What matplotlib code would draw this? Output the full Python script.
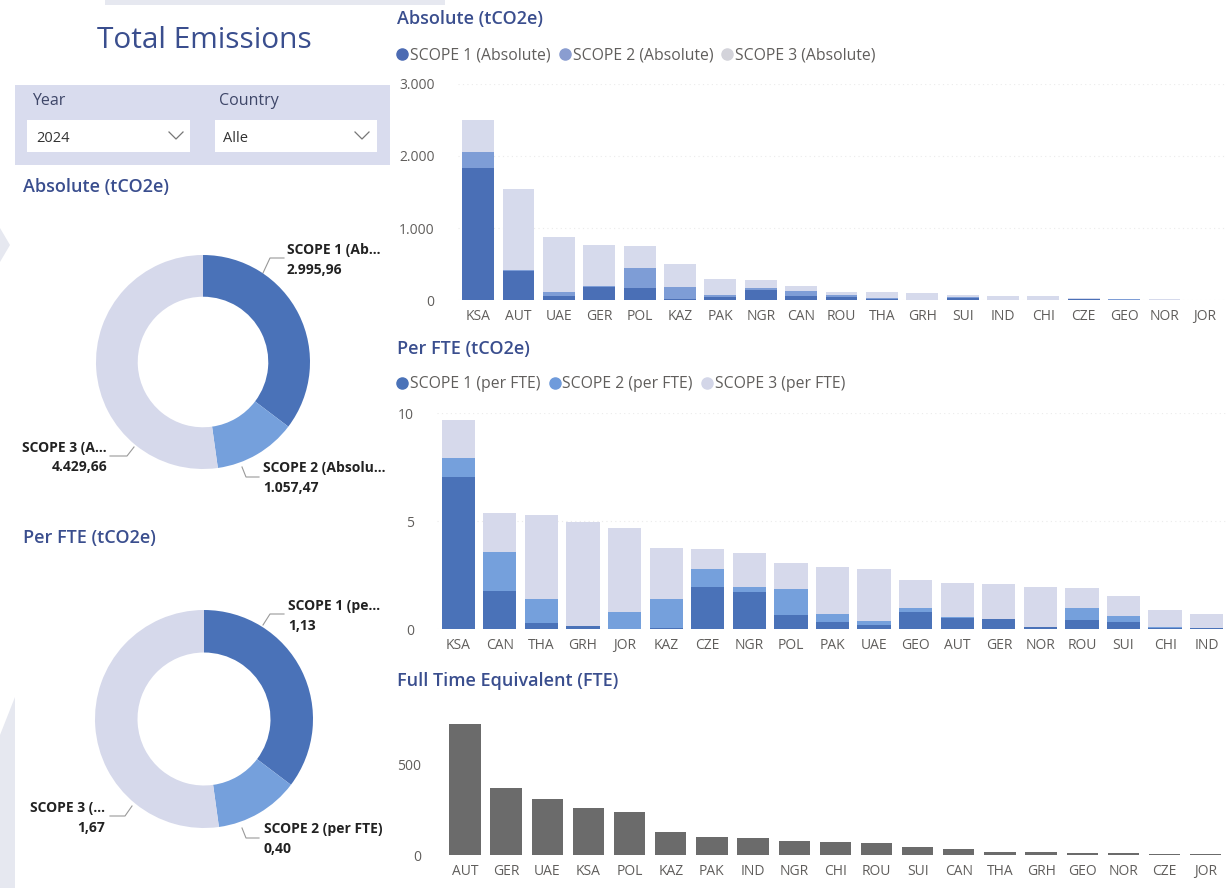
import matplotlib
matplotlib.use('Agg')
import matplotlib.pyplot as plt
from matplotlib.lines import Line2D
from matplotlib.patches import Rectangle, Polygon
import numpy as np

W, H = 1229, 888
plt.rcParams['font.family'] = ['Open Sans', 'DejaVu Sans']

# ---------------- data ----------------
abs_countries = ['KSA', 'AUT', 'UAE', 'GER', 'POL', 'KAZ', 'PAK', 'NGR', 'CAN', 'ROU',
                 'THA', 'GRH', 'SUI', 'IND', 'CHI', 'CZE', 'GEO', 'NOR', 'JOR']
abs_s1 = [1830, 400, 60, 185, 160, 10, 35, 140, 55, 40, 8, 5, 30, 3, 3, 14, 5, 1, 0]
abs_s2 = [230, 10, 55, 5, 280, 170, 35, 25, 75, 25, 22, 0, 15, 2, 2, 6, 2, 0, 1]
abs_s3 = [440, 1130, 765, 575, 310, 315, 217, 113, 64, 50, 76, 97, 20, 55, 50, 3, 7, 8, 4]

fte_countries = ['KSA', 'CAN', 'THA', 'GRH', 'JOR', 'KAZ', 'CZE', 'NGR', 'POL', 'PAK',
                 'UAE', 'GEO', 'AUT', 'GER', 'NOR', 'ROU', 'SUI', 'CHI', 'IND']
per_s1 = [7.04, 1.79, 0.31, 0.17, 0.00, 0.05, 1.97, 1.71, 0.66, 0.35, 0.20, 0.79, 0.51, 0.46, 0.12, 0.43, 0.35, 0.05, 0.05]
per_s2 = [0.90, 1.77, 1.09, 0.00, 0.79, 1.34, 0.82, 0.26, 1.19, 0.36, 0.20, 0.21, 0.05, 0.02, 0.00, 0.57, 0.28, 0.04, 0.03]
per_s3 = [1.75, 1.81, 3.89, 4.78, 3.91, 2.36, 0.93, 1.55, 1.21, 2.19, 2.39, 1.28, 1.60, 1.62, 1.85, 0.90, 0.91, 0.80, 0.61]

headcount_countries = ['AUT', 'GER', 'UAE', 'KSA', 'POL', 'KAZ', 'PAK', 'IND', 'NGR', 'CHI',
                       'ROU', 'SUI', 'CAN', 'THA', 'GRH', 'GEO', 'NOR', 'CZE', 'JOR']
headcount = [728, 370, 311, 259, 241, 128, 100, 94, 78, 70, 65, 46, 33, 18, 18, 9, 9, 8, 3]

donut_abs_values = [2995.96, 1057.47, 4429.66]
donut_abs_labels = ['SCOPE 1 (Ab...', 'SCOPE 2 (Absolu...', 'SCOPE 3 (A...']
donut_fte_values = [1.13, 0.40, 1.67]
donut_fte_labels = ['SCOPE 1 (pe...', 'SCOPE 2 (per FTE)', 'SCOPE 3 (...']

abs_legend = ['SCOPE 1 (Absolute)', 'SCOPE 2 (Absolute)', 'SCOPE 3 (Absolute)']
fte_legend = ['SCOPE 1 (per FTE)', 'SCOPE 2 (per FTE)', 'SCOPE 3 (per FTE)']

abs_yticks = [0, 1000, 2000, 3000]
per_yticks = [0, 5, 10]
hc_yticks = [0, 500]

# ---------------- style ----------------
C1, C2, C3 = '#4A6FB6', '#7E9DD6', '#D6DAEC'
C1b, C2b, C3b = '#4A72B8', '#75A0DC', '#D6D9EB'
LEG_ABS = ['#4C6BB3', '#8A9DD0', '#D3D3DA']
LEG_FTE = ['#4A72B8', '#6F9BDB', '#D3D6E8']
GRAY = '#6B6B6B'
TICK = '#605E5C'
TITLE = '#3A4E8E'


def de(v):
    s = f"{v:,.2f}"
    return s.replace(',', '#').replace('.', ',').replace('#', '.')


def de_int(v):
    return f"{int(v):,}".replace(',', '.')


fig = plt.figure(figsize=(W / 100, H / 100), dpi=100)
fig.patch.set_facecolor('white')

# overlay axes in pixel coordinates
ov = fig.add_axes([0, 0, 1, 1])
ov.set_xlim(0, W)
ov.set_ylim(H, 0)
ov.axis('off')
ov.set_facecolor('none')

# background artefacts
ov.add_patch(Rectangle((105, 0), 340, 5, color='#E6E8F0', lw=0))
ov.add_patch(Polygon([(0, 735), (15, 697), (15, 888), (0, 888)], closed=True, color='#E6E8F0', lw=0))
ov.add_patch(Polygon([(0, 228), (10, 245), (0, 262)], closed=True, color='#E6E8F0', lw=0))

# title
ov.text(204, 40, 'Total Emissions', fontsize=21.5, color=TITLE, ha='center', va='center')

# filter panel
ov.add_patch(Rectangle((15, 85), 375, 80, color='#D9DCEE', lw=0))
ov.add_patch(Rectangle((27, 120), 163, 32, color='white', lw=0))
ov.add_patch(Rectangle((215, 120), 162, 32, color='white', lw=0))
ov.text(32, 101, 'Year', fontsize=11.5, color='#3E4668', va='center')
ov.text(219, 101, 'Country', fontsize=11.5, color='#3E4668', va='center')
ov.text(36, 138, '2024', fontsize=10.5, color='#333333', va='center')
ov.text(223, 138, 'Alle', fontsize=10.5, color='#333333', va='center')
for cx in (176, 362):
    ov.plot([cx - 7, cx, cx + 7], [132, 139, 132], color='#777777', lw=0.9)

# section labels
sec = dict(fontsize=13, color=TITLE, va='center', fontweight='semibold')
ov.text(23, 187, 'Absolute (tCO2e)', **sec)
ov.text(23, 538, 'Per FTE (tCO2e)', **sec)
ov.text(397, 19, 'Absolute (tCO2e)', **sec)
ov.text(397, 349, 'Per FTE (tCO2e)', **sec)
ov.text(397, 681, 'Full Time Equivalent (FTE)', **sec)


def ax_px(x0, y0, x1, y1):
    a = fig.add_axes([x0 / W, 1 - y1 / H, (x1 - x0) / W, (y1 - y0) / H])
    a.set_facecolor('none')
    return a


# ---------------- donuts ----------------
def donut(cx, cy, r, values, colors):
    s = r * 2.5
    a = ax_px(cx - s / 2, cy - s / 2, cx + s / 2, cy + s / 2)
    a.pie(values, colors=colors, startangle=90, counterclock=False,
          wedgeprops=dict(width=0.39, linewidth=0))
    return a


donut(203, 362, 107, donut_abs_values, [C1b, C2b, C3b])
donut(204, 719, 109, donut_fte_values, [C1b, C2b, C3b])

lbl = dict(fontsize=10, fontweight='bold', color='#222222', va='center')
# abs donut labels
ov.plot([263, 270, 284], [273, 258, 258], color='#999999', lw=0.8)
ov.text(287, 250, donut_abs_labels[0], **lbl)
ov.text(287, 270, de(donut_abs_values[0]), **lbl)
ov.plot([242, 246, 259], [467, 477, 477], color='#999999', lw=0.8)
ov.text(263, 468, donut_abs_labels[1], **lbl)
ov.text(263, 488, de(donut_abs_values[1]), **lbl)
ov.plot([134, 127, 110], [447, 456, 456], color='#999999', lw=0.8)
ov.text(107, 448, donut_abs_labels[2], ha='right', **lbl)
ov.text(107, 467, de(donut_abs_values[2]), ha='right', **lbl)
# fte donut labels
ov.plot([263, 270, 284], [625, 614, 614], color='#999999', lw=0.8)
ov.text(288, 606, donut_fte_labels[0], **lbl)
ov.text(288, 626, de(donut_fte_values[0]), **lbl)
ov.plot([242, 246, 259], [828, 838, 838], color='#999999', lw=0.8)
ov.text(264, 829, donut_fte_labels[1], **lbl)
ov.text(264, 849, de(donut_fte_values[1]), **lbl)
ov.plot([132, 125, 110], [806, 816, 816], color='#999999', lw=0.8)
ov.text(105, 808, donut_fte_labels[2], ha='right', **lbl)
ov.text(105, 828, de(donut_fte_values[2]), ha='right', **lbl)


# ---------------- bar charts ----------------
def style_bar_axes(a, yticks, ylabels, ymax):
    a.set_ylim(0, ymax)
    a.set_yticks(yticks)
    a.set_yticklabels(ylabels)
    for sp in a.spines.values():
        sp.set_visible(False)
    a.tick_params(axis='both', length=0, labelsize=10, labelcolor=TICK)
    a.tick_params(axis='y', pad=17)
    a.tick_params(axis='x', pad=6.5)
    a.set_axisbelow(True)
    a.grid(axis='y', color='#EBEBEB', ls=(0, (1, 3)), lw=0.8)


# Absolute
ax1 = ax_px(458, 84, 1225, 300)
x = np.arange(len(abs_countries))
b1 = np.array(abs_s1); b2 = np.array(abs_s2); b3 = np.array(abs_s3)
ax1.bar(x, b1, width=0.79, color=C1, lw=0)
ax1.bar(x, b2, width=0.79, bottom=b1, color=C2, lw=0)
ax1.bar(x, b3, width=0.79, bottom=b1 + b2, color=C3, lw=0)
ax1.set_xlim(-0.5, len(x) - 0.5)
ax1.set_xticks(x)
ax1.set_xticklabels(abs_countries)
style_bar_axes(ax1, abs_yticks, [de_int(v) for v in abs_yticks], 3000)

# Per FTE
ax2 = ax_px(437.5, 413.3, 1227.5, 629.3)
x = np.arange(len(fte_countries))
p1 = np.array(per_s1); p2 = np.array(per_s2); p3 = np.array(per_s3)
ax2.bar(x, p1, width=0.8, color=C1b, lw=0)
ax2.bar(x, p2, width=0.8, bottom=p1, color=C2b, lw=0)
ax2.bar(x, p3, width=0.8, bottom=p1 + p2, color=C3b, lw=0)
ax2.set_xlim(-0.5, len(x) - 0.5)
ax2.set_xticks(x)
ax2.set_xticklabels(fte_countries)
style_bar_axes(ax2, per_yticks, [str(v) for v in per_yticks], 10)

# FTE
ax3 = ax_px(444.4, 721.8, 1226.3, 855)
x = np.arange(len(headcount_countries))
ax3.bar(x, headcount, width=0.76, color=GRAY, lw=0)
ax3.set_xlim(-0.5, len(x) - 0.5)
ax3.set_xticks(x)
ax3.set_xticklabels(headcount_countries)
style_bar_axes(ax3, hc_yticks, [str(v) for v in hc_yticks], 740)
ax3.grid(False)


# legends
def make_legend(labels, colors, ypx):
    handles = [Line2D([], [], marker='o', ls='', color=c, markersize=8) for c in colors]
    fig.legend(handles, labels, loc='center left', bbox_to_anchor=(395 / W, 1 - ypx / H),
               ncol=3, frameon=False, handletextpad=0.05, columnspacing=0.45,
               handlelength=0.9, fontsize=11.3, labelcolor=TICK, borderaxespad=0, borderpad=0)


make_legend(abs_legend, LEG_ABS, 55)
make_legend(fte_legend, LEG_FTE, 384)

fig.savefig('out.png', dpi=100)
